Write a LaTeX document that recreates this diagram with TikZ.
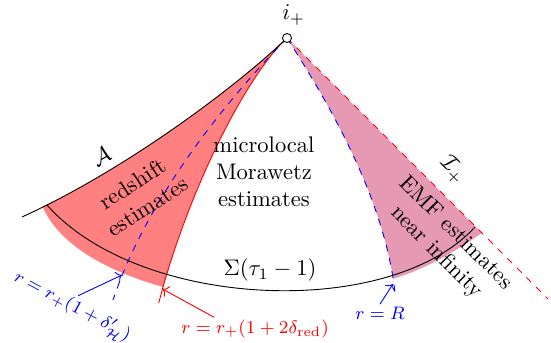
\documentclass[tikz,border=0pt]{standalone}
\usepackage{amsmath}
\usepackage{tikz}
\usetikzlibrary{
  arrows.meta,
  positioning,
}
\definecolor{redshiftfill}{HTML}{FF8080}
\definecolor{emffill}{HTML}{E699B3}

\begin{document}
\begin{tikzpicture}[
  x=0.443pt, y=-0.443pt,
  region/.style={font=\normalsize, align=center},
  rlabel/.style={font=\footnotesize, inner sep=1pt},
  pin/.style={->, thin},
  endpt/.style={circle, draw, fill=white, inner sep=0pt, minimum size=4pt},
]
  \useasboundingbox (0,0) rectangle (551,343);

  % Key points
  \coordinate (iplus) at (287,38);
  \coordinate (aend) at (22,217);
  \coordinate (scriend) at (548,299);
  \coordinate (sigleft) at (47,205);
  \coordinate (sigright) at (475,227);

  % Redshift region
  \begin{scope}
    \clip (iplus) .. controls (235,88) and (125,170) .. (aend)
      -- (0,343) -- (551,343) -- (551,0) -- cycle;
    \fill[redshiftfill] (iplus) .. controls (250,72) and (195,175) .. (163,287)
      .. controls (110,272) and (55,245) .. (40,200) -- cycle;
  \end{scope}

  % EMF region near infinity
  \begin{scope}
    \clip (iplus) .. controls (330,105) and (385,200) .. (395,293)
      -- (395,343) -- (551,343) -- (551,0) -- (287,0) -- cycle;
    \fill[emffill] (iplus) -- (482,233)
      .. controls (450,255) and (420,272) .. (385,281) -- cycle;
  \end{scope}

  % Boundaries
  \draw[red, dashed] (iplus) -- (scriend);
  \draw[red] (iplus) .. controls (250,72) and (195,175) .. (163,287) -- (158.7,303);
  \draw[blue, dashed] (iplus) .. controls (235,92) and (150,190) .. (113,300);
  \draw[blue, dashed] (iplus) .. controls (330,105) and (385,200) .. (395,293);
  \draw (iplus) .. controls (235,88) and (125,170) .. (aend);
  \draw (sigleft) .. controls (140,310) and (390,320) .. (sigright);

  \node[endpt] (ipt) at (iplus) {};
  \node[above=0pt of ipt, xshift=3pt] (iplbl) {$i_+$};

  % Region labels
  \node[rotate=30] (alabel) at (101,156) {$\mathcal{A}$};
  \node[region, rotate=33] (redtxt) at (140,195) {redshift\\estimates};
  \node[region] (mortxt) at (264,172) {microlocal\\Morawetz\\estimates};
  \node[rotate=-45] (scrilbl) at (453,170) {$\mathcal{I}_+$};
  \node[region, rotate=-45] (emftxt) at (446,243) {EMF estimates\\near infinity};
  \node (siglbl) at (270,270) {$\Sigma(\tau_1-1)$};

  % Radius labels
  \coordinate (hzpt) at (122,275);
  \coordinate (redpt) at (162.5,289);
  \coordinate (farpt) at (393,284);
  \node[rlabel, blue, rotate=-28] (hzlbl) at (72,307) {$r=r_+(1+\delta'_{\mathcal{H}})$};
  \node[rlabel, red] (redlbl) at (255,329) {$r=r_+(1+2\delta_{\mathrm{red}})$};
  \node[rlabel, blue] (farlbl) at (380,313) {$r=R$};
  \draw[pin, blue] (hzlbl.north) -- (hzpt);
  \draw[pin, red] (redlbl.164) -- (redpt);
  \draw[pin, blue] (farlbl.north) -- (farpt);

\end{tikzpicture}
\end{document}
